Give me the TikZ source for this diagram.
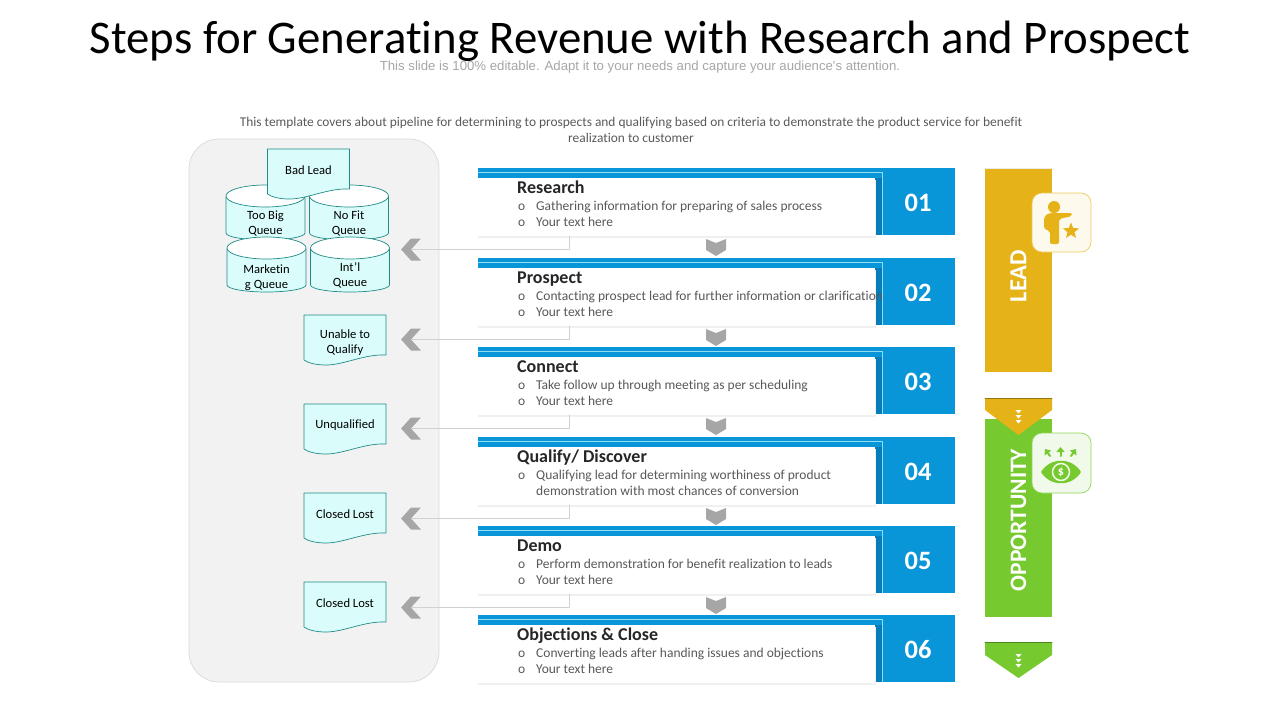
\documentclass[tikz,border=0pt]{standalone}
\usepackage{fontspec}
\setmainfont[Ligatures=NoCommon]{Carlito}
\newfontfamily\subfont{Liberation Sans}
\usetikzlibrary{arrows.meta, calc, positioning}
\usetikzlibrary{shapes.geometric, shapes.symbols}
\definecolor{ribbonblue}{RGB}{9, 150, 216}
\definecolor{stripblue}{RGB}{6, 124, 184}
\definecolor{lineblue}{RGB}{150, 220, 245}
\definecolor{goldbar}{RGB}{229, 178, 23}
\definecolor{leafgreen}{RGB}{118, 202, 47}
\definecolor{panelgray}{RGB}{242, 242, 242}
\definecolor{chevgray}{RGB}{166, 166, 166}
\definecolor{paletext}{RGB}{89, 89, 89}
\definecolor{queuefill}{RGB}{218, 253, 252}
\definecolor{queueline}{RGB}{32, 140, 135}
\tikzset{
	wavedoc/.style={draw=queueline, line width=0.7pt, fill=queuefill},
	doctext/.style={align=center, inner sep=0pt, font=\fontsize{12.6}{15}\selectfont},
	leader/.style={draw=black!18, line width=0.7pt},
	backchev/.style={signal, signal to=west, signal from=east, signal pointer angle=96, fill=chevgray, minimum width=18, minimum height=22, inner sep=0pt},
	rowhead/.style={anchor=base west, inner sep=0pt, text=black!85, font=\fontsize{18}{20}\bfseries\selectfont},
	rowtext/.style={anchor=base west, inner sep=0pt, text=paletext, font=\fontsize{13.5}{15}\selectfont},
	barlabel/.style={rotate=90, text=white, font=\fontsize{24.5}{26}\bfseries\selectfont},
	iconbox/.style={rounded corners=10, line width=0.7pt},
}
% wavy document box: name, x, y of the top left corner, text y, text
\newcommand{\docbox}[5]{
	\draw [wavedoc] (#2,#3) -- (#2+82,#3) -- (#2+82,#3+40) .. controls (#2+60,#3+39) and (#2+40,#3+50) .. (#2+22,#3+50) .. controls (#2+12,#3+50) and (#2+4,#3+48) .. (#2,#3+45) -- cycle;
	\node [doctext] (#1) at (#2+41,#4) {#5};
}
% queue drum: name, x, y of the top left corner, text y, text
\newcommand{\queuebox}[5]{
	\draw [wavedoc] (#2,#3+12) -- (#2,#3+48) arc (180:0:39.5 and 7) -- (#2+79,#3+12) -- cycle;
	\draw [wavedoc, fill=white] (#2+39.5,#3+11) ellipse (39.5 and 11);
	\node [doctext] (#1) at (#2+39.5,#4) {#5};
}
\begin{document}
\begin{tikzpicture}[line cap=round, line join=round, >=Triangle, x=1pt, y=-1pt]
	\useasboundingbox (0,0) rectangle (1280,720);

	% headings
	\node (title) at (640,41) {\fontsize{46.8}{50}\selectfont Steps for Generating Revenue with Research and Prospect};
	\node [text=black!35] (subtitle) at (640,67) {\subfont\fontsize{13.2}{15}\selectfont This slide is 100\% editable. Adapt it to your needs and capture your audience's attention.};
	\node [align=center, text=paletext, font=\fontsize{13.4}{16}\selectfont] (intro) at (631,130) {This template covers about pipeline for determining to prospects and qualifying based on criteria to demonstrate the product service for benefit\\realization to customer};

	% left panel
	\draw [fill=panelgray, draw=black!15, line width=0.7pt, rounded corners=30] (189,139) rectangle (439,682);

	% queues
	\queuebox{toobig}{226}{185}{223.5}{Too Big\\Queue}
	\queuebox{nofit}{309.5}{185}{223.5}{No Fit\\Queue}
	\queuebox{marketing}{227}{237}{278}{Marketin\\g Queue}
	\queuebox{intl}{310.5}{237}{275}{Int’l\\Queue}

	% documents
	\docbox{badlead}{267.5}{149}{170}{Bad Lead}
	\docbox{unable}{304}{315}{343}{Unable to\\Qualify}
	\docbox{unqualified}{304}{404}{425}{Unqualified}
	\docbox{lostone}{304}{493}{514}{Closed Lost}
	\docbox{losttwo}{304}{582}{603}{Closed Lost}

	% rows
	\foreach \y/\n/\head/\lineA/\bul/\lineB in {
		168/01/Research/{Gathering information for preparing of sales process}/o/{Your text here},
		258/02/Prospect/{Contacting prospect lead for further information or clarification}/o/{Your text here},
		347/03/Connect/{Take follow up through meeting as per scheduling}/o/{Your text here},
		437/04/{Qualify/ Discover}/{Qualifying lead for determining worthiness of product}/{}/{demonstration with most chances of conversion},
		526/05/Demo/{Perform demonstration for benefit realization to leads}/o/{Your text here},
		615/06/{Objections \& Close}/{Converting leads after handing issues and objections}/o/{Your text here}}
	{
		\fill [ribbonblue] (478,\y) rectangle (883,\y+9.5);
		\fill [stripblue] (875,\y+9.5) rectangle (883,\y+67);
		\node [fill=ribbonblue, minimum width=72, minimum height=67, inner sep=0pt] (numbox\n) at (919,\y+33.5) {};
		\node [text=white, inner sep=0pt, font=\fontsize{26.5}{28}\bfseries\selectfont] (num\n) at (918,\y+34.5) {\n};
		\fill [black!6] (477.5,\y+12) rectangle (875.5,\y+69.5);
		\node [fill=white, minimum width=397, minimum height=58.5, inner sep=0pt] (card\n) at (676.5,\y+38.75) {};
		\draw [lineblue, line width=0.7pt] (478,\y+4.3) -- (882.7,\y+4.3) -- (882.7,\y+67);
		\node [rowhead] (head\n) at (517,\y+25) {\head};
		\node [rowtext] (bulA\n) at (518,\y+42) {o};
		\node [rowtext] (textA\n) at (536,\y+42) {\lineA};
		\node [rowtext] (bulB\n) at (518,\y+58) {\bul};
		\node [rowtext] (textB\n) at (536,\y+58) {\lineB};
	}

	% chevrons between rows and their leaders
	\foreach \y/\n in {168/01,258/02,347/03,437/04,526/05}
	{
		\fill [chevgray] (706,\y+71) -- (716,\y+75) -- (726,\y+71) -- (726,\y+82) -- (716,\y+88) -- (706,\y+82) -- cycle;
		\node [backchev] (back\n) at (411,\y+81.5) {};
		\coordinate (tap\n) at (569,\y+68);
		\draw [leader] (tap\n) |- (back\n.east);
	}

	% lead bar
	\node [fill=goldbar, minimum width=67, minimum height=204, inner sep=0pt] (leadbar) at (1018.5,270) {};
	\node [barlabel] (leadtext) at (1018.5,276) {LEAD};
	\draw [black!8, line width=0.7pt] (984,168) -- (1053,168);

	% opportunity bar
	\node [fill=leafgreen, minimum width=67, minimum height=198, inner sep=0pt] (oppbar) at (1018.5,518) {};
	\node [barlabel, font=\fontsize{23.5}{26}\bfseries\selectfont] (opptext) at (1018.5,520) {OPPORTUNITY};

	% arrow tabs
	\fill [goldbar] (985,398) -- (1052,398) -- (1052,410) -- (1018.5,435) -- (985,410) -- cycle;
	\draw [goldbar!65!black, line width=0.8pt] (985,398) -- (1052,398);
	\fill [leafgreen] (985,642) -- (1052,642) -- (1052,655) -- (1018.5,678) -- (985,655) -- cycle;
	\draw [leafgreen!65!black, line width=0.8pt] (985,642) -- (1052,642);
	\foreach \x/\y in {1018.5/410,1018.5/415,1018.5/420,1018.5/654,1018.5/659,1018.5/664}
		\fill [white] (\x-3,\y) -- (\x+3,\y) -- (\x,\y+3.5) -- cycle;

	% lead icon
	\draw [iconbox, fill=goldbar!8, draw=goldbar!70] (1032,193) rectangle (1091,252);
	\fill [goldbar] (1054,207) circle (6);
	\fill [goldbar, rounded corners=2] (1044,229) -- (1044,217) -- (1049,213) -- (1072,213) -- (1072,216) -- (1059,219) -- (1059,244) -- (1050,244) -- (1050,231) -- cycle;
	\node [star, star points=5, star point ratio=2.3, fill=goldbar, minimum size=17, inner sep=0pt] (leadstar) at (1071,231) {};

	% opportunity icon
	\draw [iconbox, fill=leafgreen!10, draw=leafgreen!80] (1032,433) rectangle (1091,493);
	\fill [leafgreen] (1041,472) .. controls (1050,457) and (1072,457) .. (1081,472) .. controls (1072,487) and (1050,487) .. (1041,472) -- cycle;
	\node [circle, fill=leafgreen, draw=leafgreen!10, line width=1.5pt, minimum size=17, inner sep=0pt, text=white, font=\fontsize{12}{12}\bfseries\selectfont] (dollar) at (1061,472) {\$};
	\foreach \xa/\ya/\xb/\yb in {1050/456/1045/449,1060.5/456/1060.5/447,1071/456/1076/449}
		\draw [-{Triangle[length=5pt,width=8pt]}, leafgreen, line width=2pt] (\xa,\ya) -- (\xb,\yb);
\end{tikzpicture}
\end{document}
